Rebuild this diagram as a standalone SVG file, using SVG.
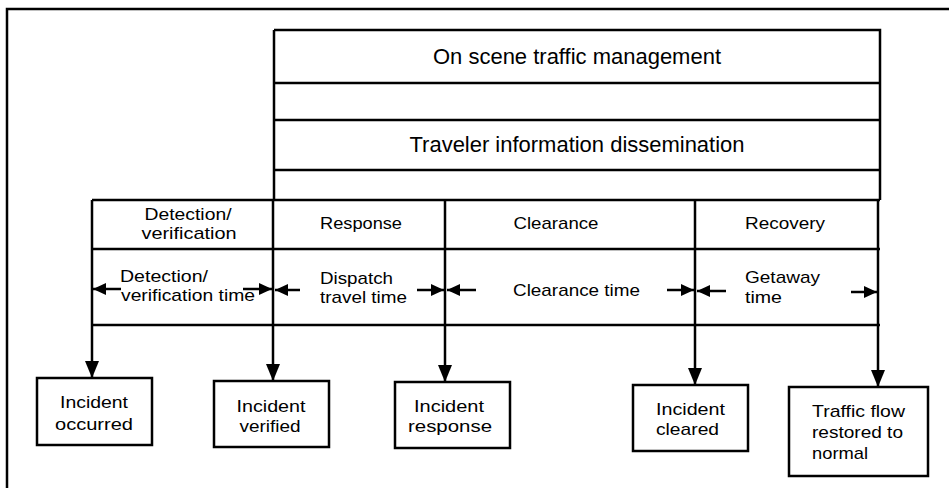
<svg xmlns="http://www.w3.org/2000/svg" width="949" height="488" viewBox="0 0 949 488">
<style>
  .ln{stroke:#000;stroke-width:2.5;fill:none}
  .bx{stroke:#000;stroke-width:2.5;fill:#fff}
  text{font-family:"Liberation Sans",Arial,sans-serif;font-size:17px;fill:#000}
  .big{font-size:22px}
  .c{text-anchor:middle}
</style>
<defs>
  <marker id="ah" viewBox="0 0 17 14" refX="17" refY="7" markerWidth="17" markerHeight="14" markerUnits="userSpaceOnUse" orient="auto">
    <path d="M0,0 L17,7 L0,14 z" fill="#000"/>
  </marker>
  <marker id="sh" viewBox="0 0 13 12" refX="13" refY="6" markerWidth="13" markerHeight="12" markerUnits="userSpaceOnUse" orient="auto">
    <path d="M0,0 L13,6 L0,12 z" fill="#000"/>
  </marker>
</defs>
<rect width="949" height="488" fill="#fff"/>
<path class="ln" d="M7,488 V9 H949" stroke-width="2"/>

<g id="top-box">
  <path class="ln" d="M274,30 H880 V200 M274,30 V200 M274,83 H880 M274,120 H880 M274,170 H880"/>
  <text class="big c" x="577" y="64" textLength="288" lengthAdjust="spacingAndGlyphs">On scene traffic management</text>
  <text class="big c" x="577" y="152" textLength="335" lengthAdjust="spacingAndGlyphs">Traveler information dissemination</text>
</g>

<g id="phase-table">
  <path class="ln" d="M92,200 H880 M92,249 H880 M92,325 H880 M92,200 V325 M273,200 V325 M445,200 V325 M695,200 V325 M878,200 V325"/>
</g>

<g id="phase-detection">
  <text class="c" x="188" y="220" textLength="87" lengthAdjust="spacingAndGlyphs">Detection/</text>
  <text class="c" x="189" y="239" textLength="95" lengthAdjust="spacingAndGlyphs">verification</text>
</g>
<g id="phase-response"><text class="c" x="361" y="229" textLength="82" lengthAdjust="spacingAndGlyphs">Response</text></g>
<g id="phase-clearance"><text class="c" x="556" y="229" textLength="85" lengthAdjust="spacingAndGlyphs">Clearance</text></g>
<g id="phase-recovery"><text class="c" x="785" y="229" textLength="80" lengthAdjust="spacingAndGlyphs">Recovery</text></g>

<g id="time-detection">
  <text x="120" y="282" textLength="88" lengthAdjust="spacingAndGlyphs">Detection/</text>
  <text x="121" y="301" textLength="134" lengthAdjust="spacingAndGlyphs">verification time</text>
</g>
<g id="time-dispatch">
  <text x="320" y="284" textLength="73" lengthAdjust="spacingAndGlyphs">Dispatch</text>
  <text x="320" y="303" textLength="87" lengthAdjust="spacingAndGlyphs">travel time</text>
</g>
<g id="time-clearance"><text x="513" y="296" textLength="127" lengthAdjust="spacingAndGlyphs">Clearance time</text></g>
<g id="time-getaway">
  <text x="745" y="283" textLength="75" lengthAdjust="spacingAndGlyphs">Getaway</text>
  <text x="745" y="303" textLength="37" lengthAdjust="spacingAndGlyphs">time</text>
</g>

<g id="connectors">
  <g class="ln" marker-end="url(#sh)">
    <path d="M121,289 H93"/>
    <path d="M243,289 H272"/>
    <path d="M300,290 H275"/>
    <path d="M417,290 H444"/>
    <path d="M476,290 H447"/>
    <path d="M667,290 H694"/>
    <path d="M726,291 H697"/>
    <path d="M851,292 H877"/>
  </g>
  <g class="ln" marker-end="url(#ah)">
    <path d="M92,325 V378"/>
    <path d="M273,325 V381"/>
    <path d="M445,325 V382"/>
    <path d="M695,325 V385"/>
    <path d="M878,325 V387"/>
  </g>
</g>

<g id="incident-occurred">
  <rect class="bx" x="37" y="378" width="115" height="67"/>
  <text class="c" x="94" y="408" textLength="68" lengthAdjust="spacingAndGlyphs">Incident</text>
  <text class="c" x="94" y="430" textLength="78" lengthAdjust="spacingAndGlyphs">occurred</text>
</g>
<g id="incident-verified">
  <rect class="bx" x="214" y="381" width="115" height="66"/>
  <text class="c" x="271" y="412" textLength="69" lengthAdjust="spacingAndGlyphs">Incident</text>
  <text class="c" x="270" y="432" textLength="61" lengthAdjust="spacingAndGlyphs">verified</text>
</g>
<g id="incident-response">
  <rect class="bx" x="395" y="382" width="115" height="66"/>
  <text class="c" x="449" y="412" textLength="70" lengthAdjust="spacingAndGlyphs">Incident</text>
  <text class="c" x="450" y="432" textLength="84" lengthAdjust="spacingAndGlyphs">response</text>
</g>
<g id="incident-cleared">
  <rect class="bx" x="633" y="385" width="115" height="66"/>
  <text x="656" y="415" textLength="69" lengthAdjust="spacingAndGlyphs">Incident</text>
  <text x="656" y="435" textLength="63" lengthAdjust="spacingAndGlyphs">cleared</text>
</g>
<g id="traffic-restored">
  <rect class="bx" x="789" y="387" width="139" height="89"/>
  <text x="812" y="417" textLength="93" lengthAdjust="spacingAndGlyphs">Traffic flow</text>
  <text x="812" y="438" textLength="91" lengthAdjust="spacingAndGlyphs">restored to</text>
  <text x="812" y="459" textLength="56" lengthAdjust="spacingAndGlyphs">normal</text>
</g>
</svg>
